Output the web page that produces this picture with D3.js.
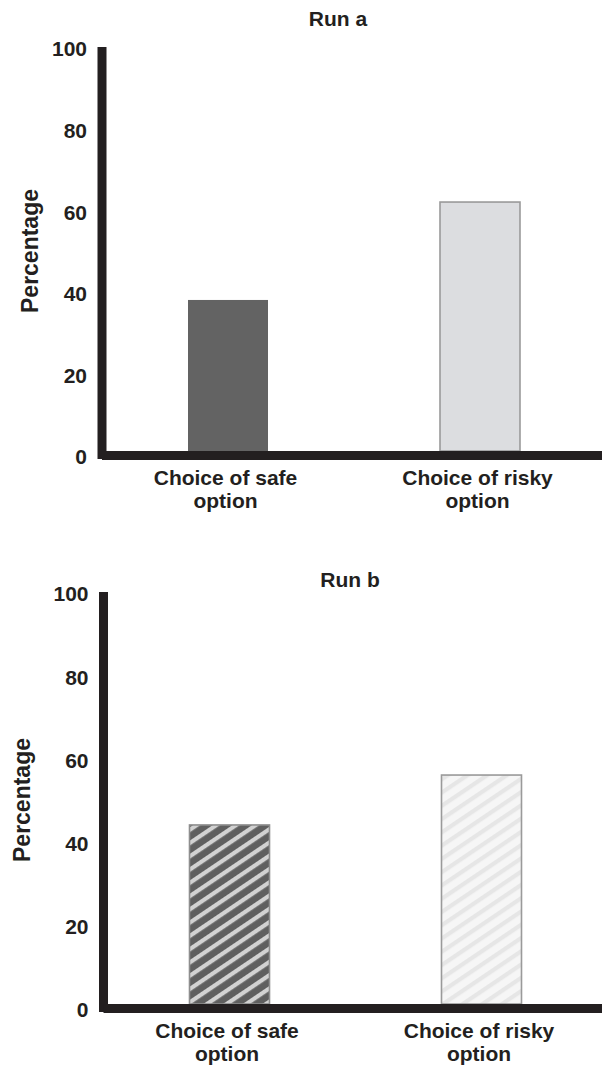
<!DOCTYPE html>
<html>
<head>
<meta charset="utf-8">
<script src="https://cdn.jsdelivr.net/npm/d3@7"></script>
<style>
  html, body { margin: 0; padding: 0; background: #fff; }
  svg { display: block; }
  text { font-family: "Liberation Sans", Arial, sans-serif; font-weight: bold; fill: #231f20; }
</style>
</head>
<body>
<svg id="chart" width="602" height="1070"></svg>
<script>
const categories = ["Choice of safe option", "Choice of risky option"];
const categoryLines = [["Choice of safe", "option"], ["Choice of risky", "option"]];
const runA = [38, 62];
const runB = [44, 56];
const tickValues = [0, 20, 40, 60, 80, 100];
const titles = ["Run a", "Run b"];

const svg = d3.select("#chart");
const defs = svg.append("defs");

function stripePattern(id, bg, fg) {
  const p = defs.append("pattern")
    .attr("id", id)
    .attr("patternUnits", "userSpaceOnUse")
    .attr("width", 11).attr("height", 11)
    .attr("patternTransform", "rotate(56)");
  p.append("rect").attr("width", 11).attr("height", 11).attr("fill", bg);
  p.append("rect").attr("width", 4.2).attr("height", 11).attr("fill", fg);
}
stripePattern("hatchDark", "#5f5f5f", "#d2d2d2");
stripePattern("hatchLight", "#f6f6f6", "#e6e6e6");

const panels = [
  { title: titles[0], values: runA, y0: 455, y100: 47, axisX: 102, titleX: 338, titleY: 26, labX: 38,
    fills: ["#636363", "#dcdde0"], strokes: ["none", "#9a9a9a"], shift: 0 },
  { title: titles[1], values: runB, y0: 1008, y100: 592, axisX: 103.5, titleX: 350, titleY: 587, labX: 30,
    fills: ["url(#hatchDark)", "url(#hatchLight)"], strokes: ["#8e8e8e", "#9a9a9a"], shift: 1.5 }
];

panels.forEach(p => {
  const g = svg.append("g");
  const y = d3.scaleLinear().domain([0, 100]).range([p.y0, p.y100]);
  const x = d3.scaleBand().domain(categories).range([102 + p.shift, 606 + p.shift]);
  const barW = 80;

  g.append("text").attr("x", p.titleX).attr("y", p.titleY)
    .attr("text-anchor", "middle").attr("font-size", 21).text(p.title);

  g.selectAll("rect.bar").data(p.values).join("rect")
    .attr("class", "bar")
    .attr("x", (d, i) => x(categories[i]) + x.bandwidth() / 2 - barW / 2)
    .attr("y", d => y(d))
    .attr("width", barW)
    .attr("height", d => y(0) - y(d) - 4)
    .attr("fill", (d, i) => p.fills[i])
    .attr("stroke", (d, i) => p.strokes[i])
    .attr("stroke-width", 1.6);

  const axisG = g.append("g").attr("transform", `translate(${p.axisX},0)`);
  const yAxis = d3.axisLeft(y).tickValues(tickValues).tickSize(0).tickPadding(15);
  axisG.call(yAxis);
  axisG.select(".domain").remove();
  axisG.selectAll(".tick text")
    .attr("font-size", 21)
    .attr("font-family", "Liberation Sans, Arial, sans-serif")
    .attr("font-weight", "bold")
    .attr("fill", "#231f20")
    .attr("dy", "0.42em");

  g.append("rect")
    .attr("x", p.axisX - 4.5).attr("y", y(100))
    .attr("width", 9).attr("height", y(0) - y(100) + 4)
    .attr("fill", "#231f20");
  g.append("rect")
    .attr("x", p.axisX).attr("y", y(0) - 4)
    .attr("width", 602 - p.axisX).attr("height", 9)
    .attr("fill", "#231f20");

  g.append("text")
    .attr("transform", `translate(${p.labX},${(y(0) + y(100)) / 2}) rotate(-90)`)
    .attr("text-anchor", "middle").attr("font-size", 23)
    .text("Percentage");

  categories.forEach((c, i) => {
    const cx = x(c) + x.bandwidth() / 2 - 2.5;
    const t = g.append("text")
      .attr("x", cx)
      .attr("y", y(0) + 30)
      .attr("text-anchor", "middle").attr("font-size", 21);
    categoryLines[i].forEach((line, j) => {
      t.append("tspan").attr("x", cx)
        .attr("dy", j === 0 ? 0 : 23).text(line);
    });
  });
});
</script>
</body>
</html>
